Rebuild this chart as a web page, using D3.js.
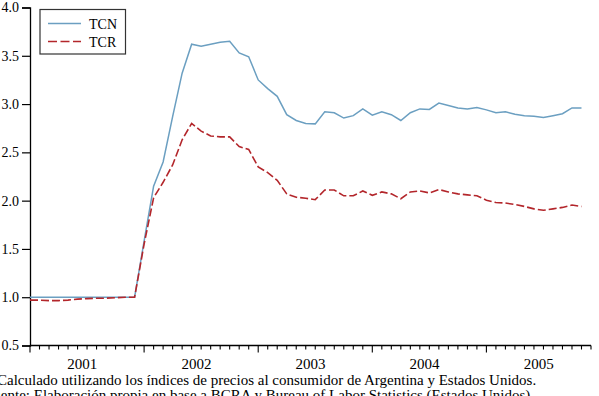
<!DOCTYPE html>
<html>
<head>
<meta charset="utf-8">
<script src="https://cdn.jsdelivr.net/npm/d3@7"></script>
<style>
  html, body { margin: 0; padding: 0; background: #fff; overflow: hidden; }
  svg text { font-family: "Liberation Serif", "Times New Roman", serif; fill: #000; }
</style>
</head>
<body>
<div id="chart"></div>
<script>
// monthly observations, Jan 2001 .. Nov 2005 (axis runs to Dec 2005)
const years = [2001, 2002, 2003, 2004, 2005];
const yTicks = [0.5, 1.0, 1.5, 2.0, 2.5, 3.0, 3.5, 4.0];

const tcn = [
  1.0, 1.0, 1.0, 1.0, 1.0, 1.0, 1.0, 1.0, 1.0, 1.0, 1.0, 1.0,
  1.58, 2.15, 2.40, 2.87, 3.32, 3.62, 3.60, 3.62, 3.64, 3.65, 3.53, 3.49,
  3.25, 3.16, 3.08, 2.89, 2.83, 2.80, 2.795, 2.92, 2.91, 2.855, 2.88, 2.95,
  2.885, 2.92, 2.89, 2.83, 2.91, 2.95, 2.945, 3.01, 2.985, 2.96, 2.95, 2.965,
  2.94, 2.91, 2.92, 2.895, 2.88, 2.875, 2.86, 2.88, 2.90, 2.96, 2.96
];
const tcr = [
  0.97, 0.97, 0.965, 0.965, 0.97, 0.98, 0.985, 0.99, 0.99, 0.995, 1.0, 1.0,
  1.55, 2.03, 2.19, 2.37, 2.63, 2.80, 2.72, 2.67, 2.66, 2.66, 2.56, 2.53,
  2.35, 2.29, 2.21, 2.07, 2.035, 2.025, 2.01, 2.11, 2.11, 2.05, 2.05, 2.10,
  2.055, 2.09, 2.07, 2.02, 2.09, 2.10, 2.08, 2.115, 2.09, 2.07, 2.06, 2.05,
  2.005, 1.98, 1.975, 1.96, 1.94, 1.915, 1.90, 1.915, 1.93, 1.955, 1.94
];
const seriesNames = ['TCN', 'TCR'];
const notes = [
  'Calculado utilizando los índices de precios al consumidor de Argentina y Estados Unidos.',
  'Fuente: Elaboración propia en base a BCRA y Bureau of Labor Statistics (Estados Unidos).'
];

const width = 599, height = 396;
const plotLeft = 30, plotRight = 591, plotTop = 7.5, plotBottom = 345.5;
const nMonths = years.length * 12;
const serif = '"Liberation Serif", "Times New Roman", serif';

const svg = d3.select('#chart').append('svg')
  .attr('width', width).attr('height', height)
  .style('display', 'block');

const x = d3.scaleLinear().domain([0, nMonths - 1]).range([plotLeft, plotRight]);
const y = d3.scaleLinear().domain([0.5, 4.0]).range([plotBottom, plotTop]);

const colors = { TCN: '#6b9fc1', TCR: '#b3262b' };

// y axis
const yAxis = d3.axisLeft(y).tickValues(yTicks).tickFormat(d3.format('.1f'))
  .tickSize(8).tickPadding(3);
const gy = svg.append('g').attr('transform', `translate(${plotLeft},0)`).call(yAxis)
  .attr('font-family', null).attr('font-size', null);
gy.select('.domain').attr('stroke', '#000').attr('stroke-width', 1.3);
gy.selectAll('.tick line').attr('stroke', '#000').attr('stroke-width', 1.2);
gy.selectAll('.tick text').style('font-family', serif).style('font-size', '14px');

// x axis: monthly ticks, longer at each January
const gx = svg.append('g').attr('transform', `translate(0,${plotBottom})`);
gx.append('line').attr('x1', plotLeft).attr('x2', plotRight).attr('stroke', '#000').attr('stroke-width', 1.3);
gx.selectAll('line.tk').data(d3.range(nMonths)).join('line')
  .attr('class', 'tk')
  .attr('x1', d => x(d)).attr('x2', d => x(d))
  .attr('y1', 0).attr('y2', d => d % 12 === 0 ? 7 : 4)
  .attr('stroke', '#000').attr('stroke-width', 1.1);
gx.selectAll('text').data(years).join('text')
  .attr('x', (d, i) => x(i * 12 + 5.5))
  .attr('y', 23.5)
  .attr('text-anchor', 'middle')
  .style('font-family', serif).style('font-size', '15px')
  .text(d => d);

// lines
const line = d3.line().x((d, i) => x(i)).y(d => y(d));
svg.append('path').datum(tcn)
  .attr('fill', 'none').attr('stroke', colors.TCN).attr('stroke-width', 1.5)
  .attr('d', line);
svg.append('path').datum(tcr)
  .attr('fill', 'none').attr('stroke', colors.TCR).attr('stroke-width', 1.6)
  .attr('stroke-dasharray', '8,3')
  .attr('d', line);

// legend
const lg = svg.append('g');
lg.append('rect').attr('x', 40).attr('y', 9.5).attr('width', 85.5).attr('height', 44.5)
  .attr('fill', '#fff').attr('stroke', '#333').attr('stroke-width', 1.2);
seriesNames.forEach((s, i) => {
  const ly = 23.5 + i * 18;
  lg.append('line').attr('x1', 48).attr('x2', 81).attr('y1', ly).attr('y2', ly)
    .attr('stroke', colors[s]).attr('stroke-width', 1.5)
    .attr('stroke-dasharray', s === 'TCR' ? '9,3.5' : null);
  lg.append('text').attr('x', 89).attr('y', ly + 5)
    .style('font-family', serif).style('font-size', '14px').text(s);
});

// notes under the chart
svg.selectAll('text.note').data(notes).join('text')
  .attr('class', 'note')
  .attr('x', (d, i) => i === 0 ? -3 : -15)
  .attr('y', (d, i) => 385 + i * 15)
  .style('font-family', serif).style('font-size', '15px')
  .text(d => d);
</script>
</body>
</html>
